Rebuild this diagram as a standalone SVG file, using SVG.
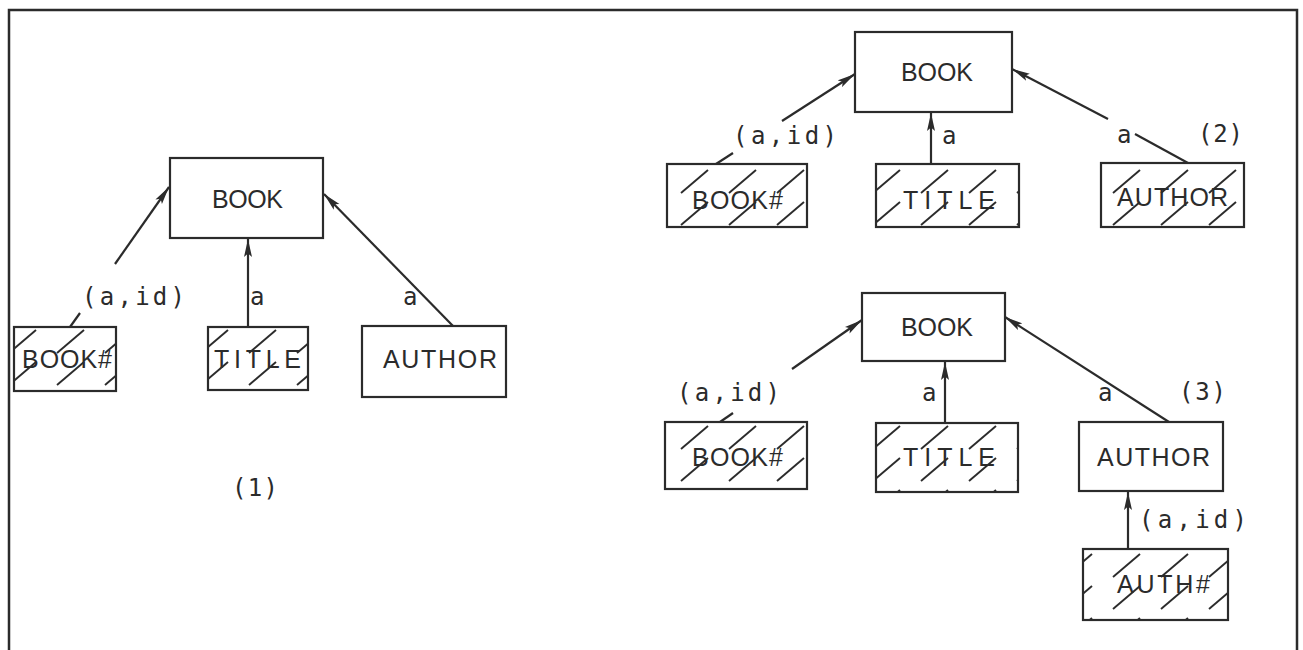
<svg xmlns="http://www.w3.org/2000/svg" width="1303" height="650" viewBox="0 0 1303 650">
<style>
.box{fill:#fff;stroke:#2b2b2b;stroke-width:2.2}
.hbox{fill:url(#hatch);stroke:#2b2b2b;stroke-width:2.2}
.nt{font-family:"Liberation Sans",Arial,sans-serif;font-size:25px;fill:#2b2b2b}
.lb{font-family:"DejaVu Sans Mono","Liberation Mono",monospace;font-size:24px;fill:#2b2b2b}
.ln{stroke:#2b2b2b;stroke-width:2.2;fill:none}
.arr{marker-end:url(#ah)}
</style>
<defs>
<pattern id="hatch" patternUnits="userSpaceOnUse" width="48" height="32" x="6" y="4">
<rect width="48" height="32" fill="#fff"/>
<line x1="3" y1="29" x2="30" y2="6" stroke="#2b2b2b" stroke-width="1.9"/>
</pattern>
<marker id="ah" viewBox="0 0 18 9" markerWidth="18" markerHeight="9" refX="18" refY="4.5" orient="auto" markerUnits="userSpaceOnUse">
<path d="M0,0.5 L18,4.5 L0,8.5 L3.5,4.5 Z" fill="#2b2b2b"/>
</marker>
</defs>
<rect width="1303" height="650" fill="#fff"/>
<path d="M9,650 V10 H1297 V650" fill="none" stroke="#2b2b2b" stroke-width="2.5"/>

<g id="connectors">
<!-- diagram 1 -->
<line class="ln" x1="70" y1="327" x2="80" y2="313"/>
<line class="ln arr" x1="115" y1="264" x2="169" y2="187"/>
<line class="ln arr" x1="248" y1="327" x2="248" y2="239"/>
<line class="ln arr" x1="453" y1="326" x2="324" y2="194"/>
<!-- diagram 2 -->
<line class="ln" x1="716" y1="164" x2="733" y2="153"/>
<line class="ln arr" x1="782" y1="121" x2="855" y2="74"/>
<line class="ln arr" x1="931" y1="164" x2="931" y2="113"/>
<line class="ln" x1="1188" y1="163" x2="1135" y2="134"/>
<line class="ln arr" x1="1108" y1="119" x2="1012" y2="69"/>
<!-- diagram 3 -->
<line class="ln" x1="720" y1="422" x2="733" y2="413"/>
<line class="ln arr" x1="792" y1="369" x2="862" y2="320"/>
<line class="ln arr" x1="945" y1="423" x2="945" y2="362"/>
<line class="ln arr" x1="1169" y1="422" x2="1005" y2="317"/>
<line class="ln arr" x1="1128" y1="549" x2="1128" y2="492"/>
<!-- labels -->
<text class="lb" x="82" y="305" textLength="103" lengthAdjust="spacing">(a,id)</text>
<text class="lb" x="250" y="305">a</text>
<text class="lb" x="403" y="305">a</text>
<text class="lb" x="733" y="144" textLength="104" lengthAdjust="spacing">(a,id)</text>
<text class="lb" x="942" y="144">a</text>
<text class="lb" x="1117" y="143">a</text>
<text class="lb" x="677" y="401" textLength="103" lengthAdjust="spacing">(a,id)</text>
<text class="lb" x="922" y="401">a</text>
<text class="lb" x="1098" y="401">a</text>
<text class="lb" x="1139" y="528" textLength="108" lengthAdjust="spacing">(a,id)</text>
</g>

<g id="d1-book"><rect class="box" x="170" y="158" width="153" height="80"/><text class="nt" x="212" y="208" textLength="71" lengthAdjust="spacing">BOOK</text></g>
<g id="d1-booknum"><rect class="hbox" x="14" y="327" width="102" height="64"/><text class="nt" x="22" y="368" textLength="90" lengthAdjust="spacing">BOOK#</text></g>
<g id="d1-title"><rect class="hbox" x="208" y="327" width="100" height="63"/><text class="nt" x="214" y="368" textLength="87" lengthAdjust="spacing">TITLE</text></g>
<g id="d1-author"><rect class="box" x="362" y="326" width="144" height="71"/><text class="nt" x="383" y="368" textLength="114" lengthAdjust="spacing">AUTHOR</text></g>
<g id="d1-caption"><text class="lb" x="232" y="496" textLength="46" lengthAdjust="spacing">(1)</text></g>

<g id="d2-book"><rect class="box" x="855" y="32" width="157" height="80"/><text class="nt" x="901" y="81" textLength="72" lengthAdjust="spacing">BOOK</text></g>
<g id="d2-booknum"><rect class="hbox" x="667" y="164" width="140" height="63"/><text class="nt" x="692" y="209" textLength="91" lengthAdjust="spacing">BOOK#</text></g>
<g id="d2-title"><rect class="hbox" x="876" y="164" width="143" height="63"/><text class="nt" x="903" y="209" textLength="92" lengthAdjust="spacing">TITLE</text></g>
<g id="d2-author"><rect class="hbox" x="1101" y="163" width="143" height="64"/><text class="nt" x="1117" y="206" textLength="111" lengthAdjust="spacing">AUTHOR</text></g>
<g id="d2-caption"><text class="lb" x="1198" y="142" textLength="45" lengthAdjust="spacing">(2)</text></g>

<g id="d3-book"><rect class="box" x="862" y="293" width="143" height="68"/><text class="nt" x="901" y="336" textLength="72" lengthAdjust="spacing">BOOK</text></g>
<g id="d3-booknum"><rect class="hbox" x="665" y="422" width="142" height="67"/><text class="nt" x="692" y="466" textLength="91" lengthAdjust="spacing">BOOK#</text></g>
<g id="d3-title"><rect class="hbox" x="876" y="423" width="142" height="69"/><text class="nt" x="903" y="466" textLength="92" lengthAdjust="spacing">TITLE</text></g>
<g id="d3-author"><rect class="box" x="1079" y="422" width="144" height="69"/><text class="nt" x="1097" y="466" textLength="113" lengthAdjust="spacing">AUTHOR</text></g>
<g id="d3-authnum"><rect class="hbox" x="1083" y="549" width="145" height="71"/><text class="nt" x="1117" y="593" textLength="93" lengthAdjust="spacing">AUTH#</text></g>
<g id="d3-caption"><text class="lb" x="1179" y="400" textLength="47" lengthAdjust="spacing">(3)</text></g>
</svg>
